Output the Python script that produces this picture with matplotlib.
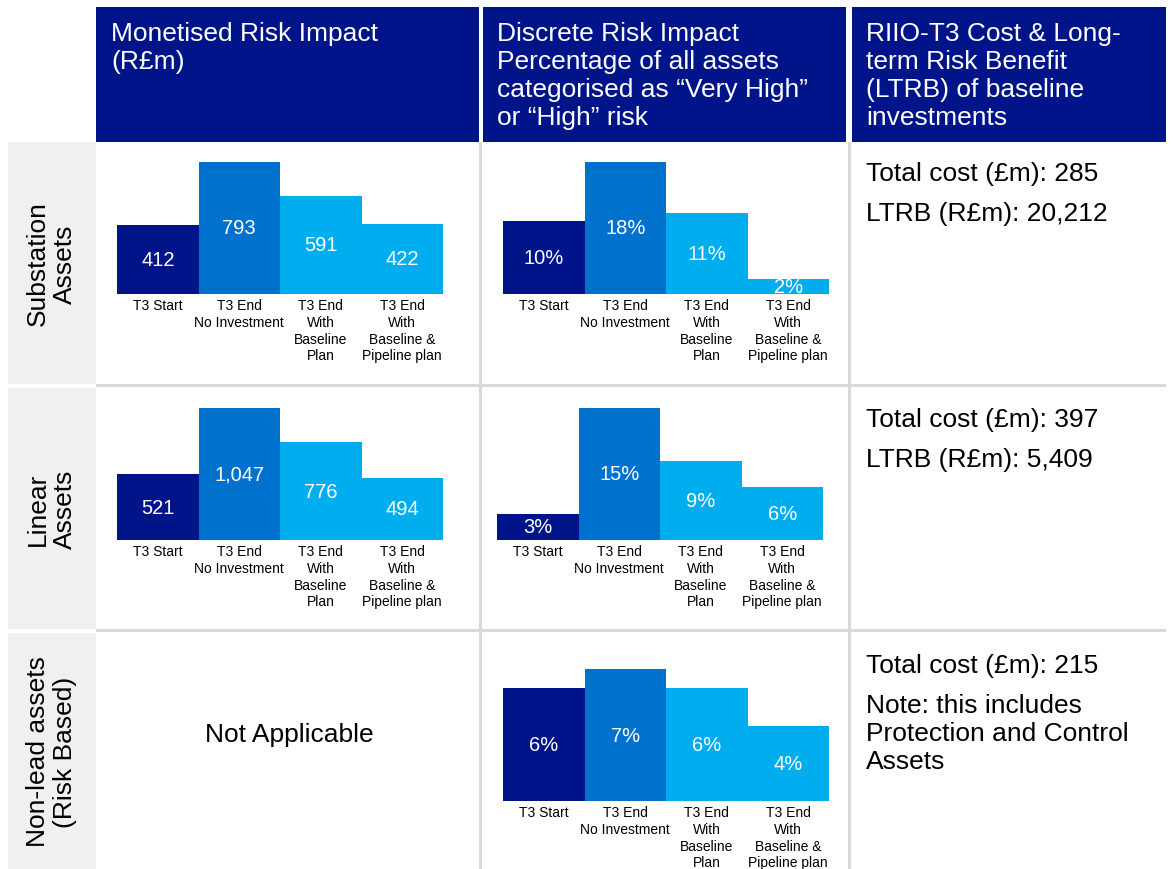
import matplotlib
matplotlib.use("Agg")
import matplotlib.pyplot as plt
from matplotlib.patches import Rectangle

plt.rcParams['font.family'] = ['Liberation Sans', 'DejaVu Sans']

# ---- data -------------------------------------------------------------
categories = ["T3 Start",
              "T3 End\nNo Investment",
              "T3 End\nWith\nBaseline\nPlan",
              "T3 End\nWith\nBaseline &\nPipeline plan"]

column_headers = [
    ["Monetised Risk Impact", "(R£m)"],
    ["Discrete Risk Impact", "Percentage of all assets",
     "categorised as \u201cVery High\u201d", "or \u201cHigh\u201d risk"],
    ["RIIO-T3 Cost & Long-", "term Risk Benefit",
     "(LTRB) of baseline", "investments"],
]

row_labels = [["Substation", "Assets"],
              ["Linear", "Assets"],
              ["Non-lead assets", "(Risk Based)"]]

substation_monetised = [412, 793, 591, 422]
substation_discrete = [10, 18, 11, 2]
linear_monetised = [521, 1047, 776, 494]
linear_discrete = [3, 15, 9, 6]
nonlead_discrete = [6, 7, 6, 4]

cost_text = [
    [["Total cost (£m): 285"], ["LTRB (R£m): 20,212"]],
    [["Total cost (£m): 397"], ["LTRB (R£m): 5,409"]],
    [["Total cost (£m): 215"],
     ["Note: this includes", "Protection and Control", "Assets"]],
]

# ---- styling ----------------------------------------------------------
W, H = 1173, 870
NAVY = '#00148A'
MID = '#0072CE'
LIGHT = '#00AEEF'
RULE = '#D9D9D9'
LABEL_BG = '#F0F0F0'
BAR_COLORS = [NAVY, MID, LIGHT, LIGHT]
BIG = 19
LINE = 28

fig = plt.figure(figsize=(W / 100, H / 100), dpi=100)


def fx(px):
    return px / W


def fy(py):
    return 1 - py / H


def box(x0, y0, x1, y1, color):
    fig.add_artist(Rectangle((fx(x0), fy(y1)), fx(x1) - fx(x0), fy(y0) - fy(y1),
                             transform=fig.transFigure, facecolor=color,
                             edgecolor='none', zorder=0))


def lines_at(x, y, lines, step=LINE, color='black', size=BIG):
    for i, s in enumerate(lines):
        fig.text(fx(x), fy(y + i * step), s, ha='left', va='baseline',
                 color=color, fontsize=size)


# table frame: header cells, row-label cells and grey rules
for x0, x1 in [(96, 479), (483, 846), (852, 1166)]:
    box(x0, 8, x1, 143, NAVY)
for y0, y1 in [(143, 385), (389, 630), (634, 870)]:
    box(8, y0, 96, y1, LABEL_BG)
for y in (385, 630):
    box(96, y, 1166, y + 3, RULE)
for x in (479, 848):
    box(x, 143, x + 3, 870, RULE)

# column headers
for x, lines in zip([111, 497, 866], column_headers):
    lines_at(x, 41, lines, color='white')

# rotated row labels
for (y0, y1), lines in zip([(143, 385), (389, 630), (634, 870)], row_labels):
    yc = (y0 + y1) / 2
    for i, s in enumerate(lines):
        fig.text(fx(38 + 27 * i), fy(yc), s, rotation=90, ha='center',
                 va='center', fontsize=BIG)

# cost / benefit notes
for top, blocks in zip([181, 427, 673], cost_text):
    y = top
    for block in blocks:
        lines_at(866, y, block)
        y += LINE * (len(block) - 1) + 40

fig.text(fx(289), fy(742), "Not Applicable", ha='center', va='baseline',
         fontsize=BIG)


# ---- bar panels -------------------------------------------------------
def bar_panel(x0, baseline, values, fmt):
    ax = fig.add_axes([fx(x0), fy(baseline), 326 / W, 132 / H])
    bars = ax.bar(range(len(values)), values, width=1.0, color=BAR_COLORS)
    ax.set_xlim(-0.5, len(values) - 0.5)
    ax.set_ylim(0, max(values))
    ax.bar_label(bars, labels=[fmt(v) for v in values], label_type='center',
                 color='white', fontsize=14.5)
    ax.set_xticks(range(len(values)))
    ax.set_xticklabels(categories, fontsize=10, linespacing=1.25)
    ax.tick_params(axis='x', length=0, pad=3)
    ax.set_yticks([])
    for s in ax.spines.values():
        s.set_visible(False)
    ax.patch.set_alpha(0)
    return ax


money = lambda v: f"{v:,}"
pct = lambda v: f"{v}%"

bar_panel(117, 295, substation_monetised, money)
bar_panel(503, 295, substation_discrete, pct)
bar_panel(117, 541, linear_monetised, money)
bar_panel(497, 541, linear_discrete, pct)
bar_panel(503, 802, nonlead_discrete, pct)

fig.savefig("out.png", dpi=100)
